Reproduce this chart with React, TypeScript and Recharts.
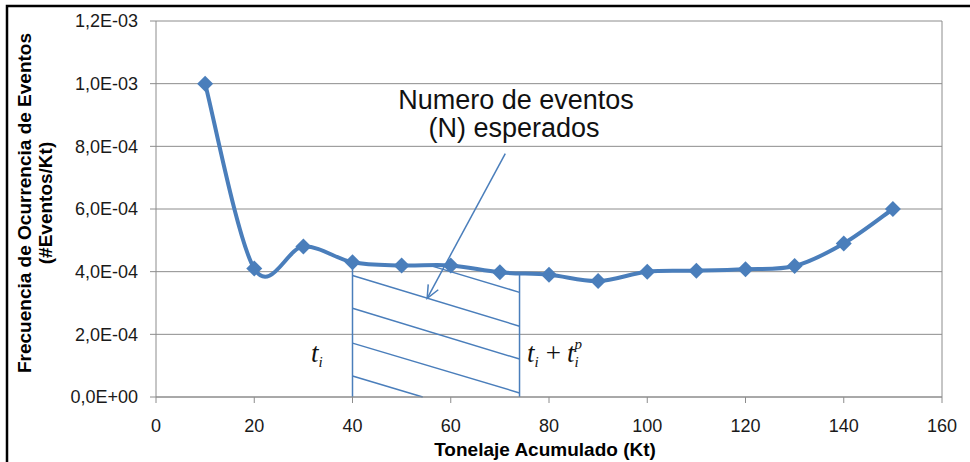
import React from "react";
import {
  LineChart,
  Line,
  XAxis,
  YAxis,
  CartesianGrid,
  ReferenceLine,
} from "recharts";

const tonelaje = [10, 20, 30, 40, 50, 60, 70, 80, 90, 100, 110, 120, 130, 140, 150];
const frecuencia = [
  1.0e-3, 4.1e-4, 4.8e-4, 4.3e-4, 4.2e-4, 4.2e-4, 3.98e-4, 3.9e-4, 3.7e-4, 4.0e-4,
  4.03e-4, 4.08e-4, 4.18e-4, 4.9e-4, 6.0e-4,
];
const xTicks = [0, 20, 40, 60, 80, 100, 120, 140, 160];
const yTicks = [0, 2e-4, 4e-4, 6e-4, 8e-4, 1e-3, 1.2e-3];

// shaded interval [t_i, t_i + t_i^p] and its hatching, in data units
const intervalEdges = [
  { x: 40, top: 4.3e-4 },
  { x: 74, top: 3.95e-4 },
];
const hatchLines = [
  [{ x: 55.7, y: 4.2e-4 }, { x: 74, y: 3.34e-4 }],
  [{ x: 40, y: 3.88e-4 }, { x: 74, y: 2.26e-4 }],
  [{ x: 40, y: 2.83e-4 }, { x: 74, y: 1.21e-4 }],
  [{ x: 40, y: 1.72e-4 }, { x: 74, y: 0.13e-4 }],
  [{ x: 40, y: 0.67e-4 }, { x: 54.3, y: 0 }],
];
const arrowSegment = [{ x: 71.1, y: 7.77e-4 }, { x: 55.2, y: 3.15e-4 }];

const data = tonelaje.map((t, i) => ({ t, f: frecuencia[i] }));

const BLUE = "#4A7EBB";
const GRID = "#8C8C8C";
const FONT = "'Liberation Sans', Arial, sans-serif";
const SERIF = "'Liberation Serif', 'Times New Roman', serif";

// Excel-like smoothed line (Catmull-Rom as cubic Bezier)
function excelCurve(context: any) {
  let pts: number[][] = [];
  return {
    areaStart() {},
    areaEnd() {},
    lineStart() {
      pts = [];
    },
    lineEnd() {
      const n = pts.length;
      if (!n) return;
      context.moveTo(pts[0][0], pts[0][1]);
      for (let i = 0; i < n - 1; i++) {
        const p0 = pts[i - 1] || pts[i];
        const p1 = pts[i];
        const p2 = pts[i + 1];
        const p3 = pts[i + 2] || pts[i + 1];
        context.bezierCurveTo(
          p1[0] + (p2[0] - p0[0]) / 6,
          p1[1] + (p2[1] - p0[1]) / 6,
          p2[0] - (p3[0] - p1[0]) / 6,
          p2[1] - (p3[1] - p1[1]) / 6,
          p2[0],
          p2[1]
        );
      }
    },
    point(x: number, y: number) {
      pts.push([+x, +y]);
    },
  };
}

const sciFormat = (v: number) => {
  if (v === 0) return "0,0E+00";
  const [m, e] = v.toExponential(1).split("e");
  const exp = parseInt(e, 10);
  const sign = exp < 0 ? "-" : "+";
  return `${m.replace(".", ",")}E${sign}${String(Math.abs(exp)).padStart(2, "0")}`;
};

const Diamond = (props: any) => {
  const { cx, cy, index } = props;
  if (cx == null || cy == null) return <g key={index} />;
  const r = 8;
  return (
    <polygon
      key={index}
      points={`${cx},${cy - r} ${cx + r},${cy} ${cx},${cy + r} ${cx - r},${cy}`}
      fill={BLUE}
    />
  );
};

const ArrowShape = (props: any) => {
  const { x1, y1, x2, y2 } = props;
  const ang = Math.atan2(y2 - y1, x2 - x1);
  const len = 14;
  const spread = 0.42;
  const a1 = ang + Math.PI - spread;
  const a2 = ang + Math.PI + spread;
  return (
    <g>
      <line x1={x1} y1={y1} x2={x2} y2={y2} stroke={BLUE} strokeWidth={1.5} />
      <polyline
        points={`${x2 + len * Math.cos(a1)},${y2 + len * Math.sin(a1)} ${x2},${y2} ${
          x2 + len * Math.cos(a2)
        },${y2 + len * Math.sin(a2)}`}
        fill="none"
        stroke={BLUE}
        strokeWidth={1.5}
      />
    </g>
  );
};

export default function App() {
  return (
    <div
      style={{
        position: "fixed",
        left: 0,
        top: 0,
        width: 970,
        height: 462,
        background: "#fff",
        overflow: "hidden",
      }}
    >
      <LineChart
        width={970}
        height={462}
        data={data}
        margin={{ top: 21, right: 28, left: 96, bottom: 35 }}
      >
        <CartesianGrid stroke={GRID} vertical={false} />
        <XAxis
          dataKey="t"
          type="number"
          domain={[0, 160]}
          ticks={xTicks}
          height={30}
          stroke={GRID}
          tickSize={6}
          tickMargin={16}
          tick={{ fill: "#1a1a1a", fontSize: 18, fontFamily: FONT }}
        />
        <YAxis
          type="number"
          domain={[0, 1.2e-3]}
          ticks={yTicks}
          width={60}
          stroke={GRID}
          tickSize={6}
          tickMargin={12}
          tickFormatter={sciFormat}
          tick={{ fill: "#1a1a1a", fontSize: 18, fontFamily: FONT }}
        />
        <ReferenceLine x={160} stroke={GRID} />
        {intervalEdges.map((e, i) => (
          <ReferenceLine
            key={`edge-${i}`}
            segment={[{ x: e.x, y: 0 }, { x: e.x, y: e.top }]}
            stroke={BLUE}
            strokeWidth={1.5}
          />
        ))}
        {hatchLines.map((s, i) => (
          <ReferenceLine key={`hatch-${i}`} segment={s} stroke={BLUE} strokeWidth={1.5} />
        ))}
        <Line
          type={excelCurve as any}
          dataKey="f"
          stroke={BLUE}
          strokeWidth={4}
          dot={Diamond}
          activeDot={false}
          isAnimationActive={false}
        />
        <ReferenceLine segment={arrowSegment} shape={ArrowShape} />
      </LineChart>
      <svg
        width={970}
        height={462}
        style={{ position: "absolute", left: 0, top: 0, pointerEvents: "none" }}
      >
        <rect x={7} y={6} width={1000} height={500} fill="none" stroke="#000" strokeWidth={2.5} />
        <g fontFamily={FONT} fontWeight="bold" fontSize={19} fill="#000" textAnchor="middle">
          <text x={545} y={456}>Tonelaje Acumulado (Kt)</text>
          <text transform="translate(31,203) rotate(-90)">Frecuencia de Ocurrencia de Eventos</text>
          <text transform="translate(52,203) rotate(-90)">(#Eventos/Kt)</text>
        </g>
        <g fontFamily={FONT} fontSize={27} fill="#111" textAnchor="middle">
          <text x={516} y={109}>Numero de eventos</text>
          <text x={514} y={137}>(N) esperados</text>
        </g>
        <g fontFamily={SERIF} fontStyle="italic" fill="#111">
          <text x={311} y={362} fontSize={27}>
            t<tspan dy={5} fontSize={15}>i</tspan>
          </text>
          <text x={527} y={362} fontSize={27}>
            t<tspan dy={5} fontSize={15}>i</tspan>
            <tspan dy={-5} fontStyle="normal" dx={7}>+</tspan>
            <tspan dx={6}>t</tspan>
            <tspan dy={5} fontSize={15}>i</tspan>
            <tspan dy={-18} dx={-4} fontSize={15}>p</tspan>
          </text>
        </g>
      </svg>
    </div>
  );
}
